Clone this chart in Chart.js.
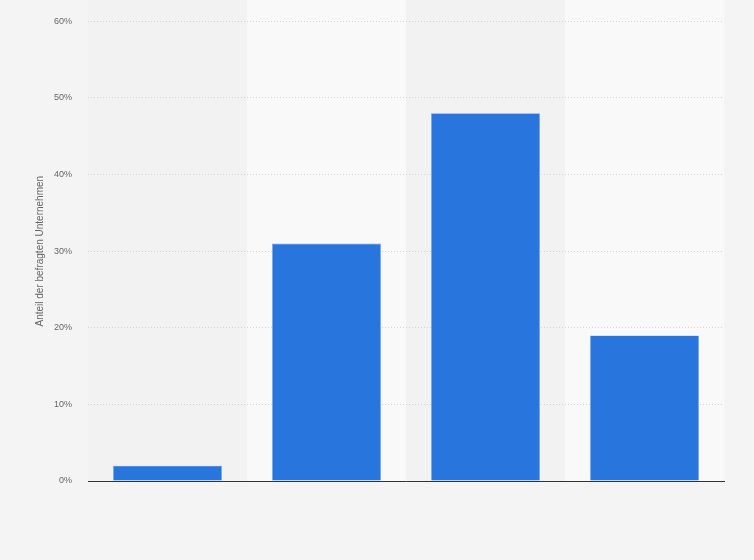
<!DOCTYPE html>
<html>
<head>
<meta charset="utf-8">
<script src="https://cdn.jsdelivr.net/npm/chart.js@4/dist/chart.umd.min.js"></script>
<style>
  html, body { margin: 0; padding: 0; background: #f4f4f4; }
  #wrap { width: 754px; height: 560px; }
</style>
</head>
<body>
<div id="wrap"><canvas id="chart" width="754" height="560"></canvas></div>
<script>
// values
var categories = ['A', 'B', 'C', 'D'];
var shares = [2, 31, 48, 19];
var yTicks = [0, 10, 20, 30, 40, 50, 60];

// alternating column bands behind the bars
var bandPlugin = {
  id: 'bands',
  beforeDraw: function (chart) {
    var ctx = chart.ctx, x = chart.scales.x, area = chart.chartArea;
    var step = (area.right - area.left) / categories.length;
    ctx.save();
    ctx.fillStyle = '#f4f4f4';
    ctx.fillRect(0, 0, chart.width, chart.height);
    categories.forEach(function (c, i) {
      var cx = x.getPixelForValue(i);
      ctx.fillStyle = i % 2 ? '#f9f9f9' : '#f2f2f2';
      ctx.fillRect(cx - step / 2, 0, step, area.bottom);
    });
    ctx.restore();
  }
};

new Chart(document.getElementById('chart').getContext('2d'), {
  type: 'bar',
  data: {
    labels: categories,
    datasets: [{
      label: 'Anteil',
      data: shares,
      backgroundColor: '#2876dd',
      borderColor: '#6fa3e8',
      borderWidth: 0.6,
      barPercentage: 0.685,
      categoryPercentage: 1
    }]
  },
  options: {
    responsive: false,
    animation: false,
    layout: { padding: { top: 15, right: 30, bottom: 71, left: 34 } },
    plugins: { legend: { display: false }, tooltip: { enabled: false } },
    scales: {
      x: {
        grid: { display: false },
        ticks: { display: false },
        border: { display: true, color: '#333', width: 1 }
      },
      y: {
        min: 0,
        max: 60,
        afterBuildTicks: function (s) { s.ticks = yTicks.map(function (v) { return { value: v }; }); },
        afterFit: function (s) { s.width = 54; },
        ticks: {
          padding: 16,
          color: '#666',
          font: { family: 'Liberation Sans, Arial', size: 9 },
          callback: function (v) { return v + '%'; }
        },
        grid: { color: '#d4d4d4', lineWidth: 1, drawTicks: false },
        border: { display: false, dash: [1, 2] },
        title: {
          display: true,
          text: 'Anteil der befragten Unternehmen',
          color: '#666',
          font: { family: 'Liberation Sans, Arial', size: 10 },
          padding: 0
        }
      }
    }
  },
  plugins: [bandPlugin]
});
</script>
</body>
</html>
